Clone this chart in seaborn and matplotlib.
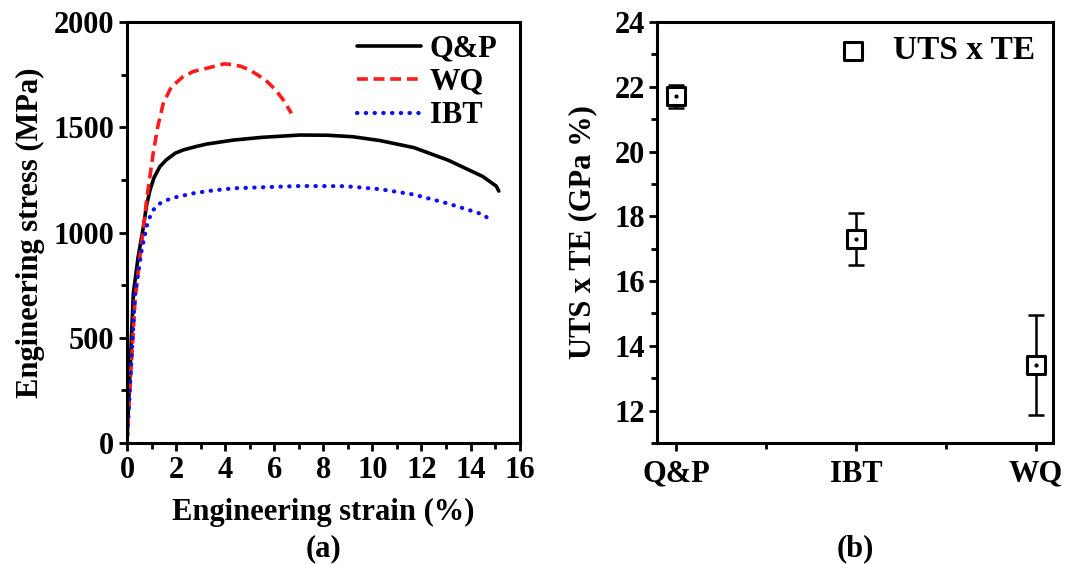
import numpy as np
import pandas as pd
import matplotlib.pyplot as plt
import seaborn as sns
from matplotlib.ticker import MultipleLocator

# stress-strain curves
qp_strain = [0, 0.1, 0.26, 0.45, 0.67, 0.8, 0.94, 1.1, 1.34, 1.6, 1.97, 2.29, 2.8, 3.24, 4.33, 5.5, 7.04, 8.18, 9.2, 10.3, 11.7, 13.1, 14.5, 15.05, 15.15]
qp_stress = [0, 280, 710, 880, 1028, 1130, 1202, 1260, 1313, 1345, 1377, 1392, 1408, 1420, 1439, 1452, 1463, 1462, 1455, 1437, 1403, 1343, 1266, 1220, 1197]

wq_strain = [0, 0.15, 0.33, 0.53, 0.65, 0.8, 1.07, 1.25, 1.48, 1.8, 2.26, 2.7, 3.24, 3.95, 4.3, 4.65, 5.0, 5.36, 5.7, 6.06, 6.4, 6.7]
wq_stress = [0, 320, 679, 885, 1000, 1154, 1377, 1500, 1614, 1690, 1738, 1765, 1780, 1801, 1798, 1789, 1772, 1746, 1718, 1677, 1625, 1566]

ibt_strain = [0, 0.15, 0.33, 0.6, 0.8, 0.9, 1.07, 1.3, 1.62, 2.0, 2.7, 3.3, 4.33, 7.04, 8.89, 10.3, 11.7, 13.1, 14.5, 14.8]
ibt_stress = [0, 330, 711, 917, 1028, 1065, 1107, 1135, 1154, 1168, 1186, 1197, 1210, 1221, 1220, 1206, 1180, 1137, 1086, 1060]

# UTS x TE values
groups = ["Q&P", "IBT", "WQ"]
uts_te = [21.7, 17.3, 13.4]
uts_te_err = [0.35, 0.8, 1.55]

sns.set_style("ticks")
plt.rcParams['font.family'] = ['Liberation Serif', 'DejaVu Serif']
plt.rcParams['font.weight'] = 'bold'
plt.rcParams['axes.labelweight'] = 'bold'
plt.rcParams['text.color'] = 'black'
plt.rcParams['axes.labelcolor'] = 'black'
plt.rcParams['axes.edgecolor'] = 'black'
plt.rcParams['xtick.color'] = 'black'
plt.rcParams['ytick.color'] = 'black'
plt.rcParams['axes.linewidth'] = 2.2
plt.rcParams['xtick.major.width'] = 2.0
plt.rcParams['ytick.major.width'] = 2.0
plt.rcParams['xtick.minor.width'] = 2.0
plt.rcParams['ytick.minor.width'] = 2.0
plt.rcParams['xtick.major.size'] = 6
plt.rcParams['ytick.major.size'] = 6
plt.rcParams['xtick.minor.size'] = 4
plt.rcParams['ytick.minor.size'] = 4
plt.rcParams['xtick.direction'] = 'out'
plt.rcParams['ytick.direction'] = 'out'

fs = 22

fig = plt.figure(figsize=(10.67, 5.64), dpi=100)
ax1 = fig.add_axes([0.119, 0.2145, 0.368, 0.7465])
ax2 = fig.add_axes([0.616, 0.2145, 0.371, 0.7465])

# (a) stress-strain
curves = pd.concat([
    pd.DataFrame({"strain": qp_strain, "stress": qp_stress, "sample": "Q&P"}),
    pd.DataFrame({"strain": wq_strain, "stress": wq_stress, "sample": "WQ"}),
    pd.DataFrame({"strain": ibt_strain, "stress": ibt_stress, "sample": "IBT"}),
])
styles = {"Q&P": ("black", "-", 2.6), "WQ": ("#ff1a1a", (0, (3, 1.6)), 2.6),
          "IBT": ("#1010ee", (0, (0.1, 2.0)), 3.0)}
for name in ["Q&P", "WQ", "IBT"]:
    color, ls, lw = styles[name]
    sub = curves[curves["sample"] == name]
    sns.lineplot(data=sub, x="strain", y="stress", ax=ax1, color=color,
                 lw=lw, label=name, sort=False, estimator=None)
    ln = ax1.lines[-1]
    ln.set_linestyle(ls)
    if name == "IBT":
        ln.set_dash_capstyle('round')

ax1.set_xlim(0, 16)
ax1.set_ylim(0, 2000)
ax1.xaxis.set_major_locator(MultipleLocator(2))
ax1.xaxis.set_minor_locator(MultipleLocator(1))
ax1.yaxis.set_major_locator(MultipleLocator(500))
ax1.yaxis.set_minor_locator(MultipleLocator(250))
ax1.set_xlabel("Engineering strain (%)", fontsize=fs, labelpad=10)
ax1.set_ylabel("Engineering stress (MPa)", fontsize=fs, labelpad=6)
ax1.tick_params(labelsize=fs, pad=3)
leg = ax1.legend(loc="upper right", bbox_to_anchor=(0.975, 1.0), frameon=False,
                 fontsize=fs, handlelength=2.1, handletextpad=0.3,
                 labelspacing=0.15, borderaxespad=0.0)
for t in leg.get_texts():
    t.set_fontweight('bold')
ax1.text(0.5, -0.25, "(a)", transform=ax1.transAxes, ha="center", va="center",
         fontsize=fs, fontweight="bold")

# (b) UTS x TE
pts = pd.DataFrame({"group": groups, "value": uts_te, "err": uts_te_err})
pts["pos"] = np.arange(len(groups))
ax2.errorbar(pts["pos"], pts["value"], yerr=pts["err"], fmt="none", ecolor="black",
             elinewidth=1.8, capsize=6, capthick=1.8, zorder=2)
sns.scatterplot(data=pts, x="pos", y="value", ax=ax2, marker="s", s=150,
                facecolor="white", edgecolor="black", linewidth=2.2, zorder=3,
                label="UTS x TE")
ax2.scatter(pts["pos"], pts["value"], s=4, color="black", zorder=4)
ax2.set_xlim(-0.105, 2.094)
ax2.set_ylim(11, 24)
ax2.set_xticks(pts["pos"])
ax2.set_xticklabels(groups)
ax2.xaxis.set_minor_locator(MultipleLocator(0.5))
ax2.yaxis.set_major_locator(MultipleLocator(2))
ax2.yaxis.set_minor_locator(MultipleLocator(1))
ax2.set_xlabel("")
ax2.set_ylabel("UTS x TE (GPa %)", fontsize=fs, labelpad=12)
ax2.tick_params(labelsize=fs, pad=3)
ax2.tick_params(axis="x", pad=6)
leg2 = ax2.legend(loc="upper right", bbox_to_anchor=(0.987, 1.0), frameon=False,
                  fontsize=24, handlelength=1.0, handletextpad=0.7, borderaxespad=0.0)
for t in leg2.get_texts():
    t.set_fontweight('bold')
ax2.text(0.5, -0.25, "(b)", transform=ax2.transAxes, ha="center", va="center",
         fontsize=fs, fontweight="bold")

for ax in (ax1, ax2):
    for s in ax.spines.values():
        s.set_visible(True)
        s.set_linewidth(2.2)
        s.set_color("black")

fig.savefig("out.png", dpi=100, facecolor="white")
